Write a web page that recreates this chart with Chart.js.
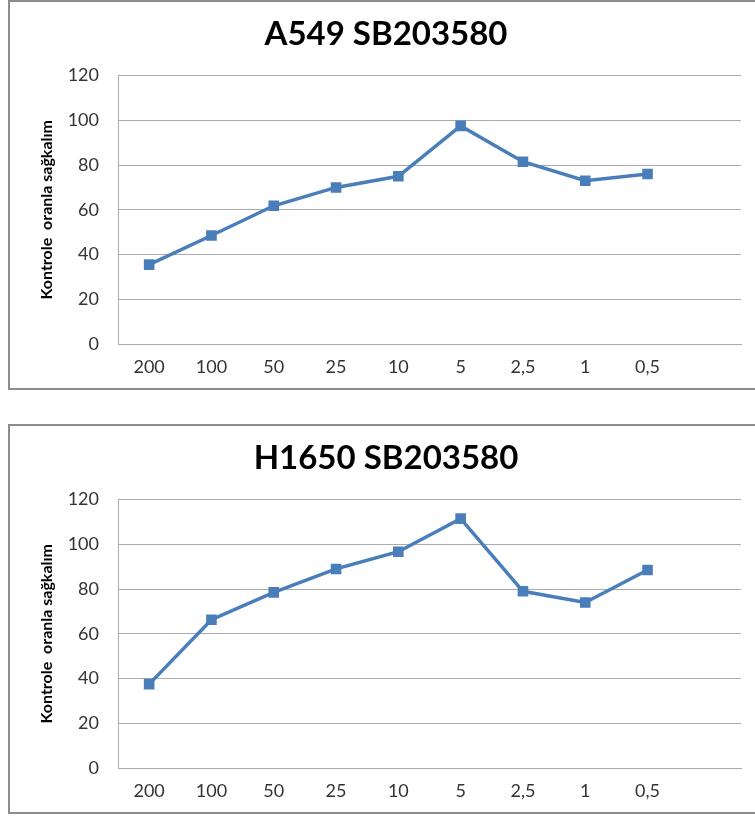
<!DOCTYPE html>
<html>
<head>
<meta charset="utf-8">
<script src="https://cdn.jsdelivr.net/npm/chart.js@4/dist/chart.umd.min.js"></script>
<style>
  html, body { margin: 0; padding: 0; background: #fff; overflow: hidden; }
  body { width: 755px; height: 816px; position: relative; }
  .box { position: absolute; left: 8px; width: 760px; height: 390px; box-sizing: border-box;
         border: 2px solid #8c8c8c; background: #fff; }
  #box1 { top: 0px; }
  #box2 { top: 424px; }
  canvas { position: absolute; left: 0; top: 0; }
</style>
</head>
<body>
<div class="box" id="box1"><canvas id="c1" width="745" height="386"></canvas></div>
<div class="box" id="box2"><canvas id="c2" width="745" height="386"></canvas></div>
<script>
// Concentrations (µM); the trailing blank slot leaves room on the right like the original sheet
const categories = ['200', '100', '50', '25', '10', '5', '2,5', '1', '0,5', ''];
const a549Values = [35.5, 48.5, 61.8, 70, 75, 97.5, 81.5, 73, 76];
const h1650Values = [37.5, 66.3, 78.5, 89, 96.7, 111.5, 79, 74, 88.5];
const yTicks = [0, 20, 40, 60, 80, 100, 120];
const yAxisTitle = 'Kontrole  oranla sağkalım';

const LINE = '#4a7ebb';
const GRID = '#ababab';
const FONT = 'Lato';

function makeChart(id, title, values) {
  return new Chart(document.getElementById(id), {
    type: 'line',
    data: {
      labels: categories,
      datasets: [{
        data: values,
        borderColor: LINE,
        backgroundColor: LINE,
        borderWidth: 3.5,
        pointStyle: 'rect',
        pointRadius: 7.5,
        pointBorderWidth: 0,
        pointBackgroundColor: LINE,
        tension: 0,
        fill: false
      }]
    },
    options: {
      responsive: false,
      animation: false,
      devicePixelRatio: 1,
      layout: { padding: { left: 21, right: 14, top: 0, bottom: 0 } },
      plugins: {
        legend: { display: false },
        tooltip: { enabled: false },
        title: {
          display: true,
          text: title,
          color: '#000',
          font: { family: FONT, size: 33, weight: 'bold' },
          padding: { top: 13, bottom: 21 }
        }
      },
      scales: {
        x: {
          offset: true,
          grid: { display: false, drawTicks: false },
          border: { display: true, color: GRID, width: 1 },
          ticks: { color: '#333', font: { family: FONT, size: 18 }, padding: 12,
                   maxRotation: 0, autoSkip: false },
          afterFit: s => { s.height = 44; }
        },
        y: {
          min: 0, max: 120,
          afterBuildTicks: s => { s.ticks = yTicks.map(v => ({ value: v })); },
          grid: { color: GRID, lineWidth: 1, drawTicks: false },
          border: { display: true, color: GRID, width: 1 },
          ticks: { color: '#333', font: { family: FONT, size: 18 }, padding: 19 },
          title: {
            display: true,
            text: yAxisTitle,
            color: '#000',
            font: { family: FONT, size: 16, weight: 'bold' },
            padding: { top: 6, bottom: 0 }
          },
          afterFit: s => { s.width = 87; }
        }
      }
    }
  });
}

makeChart('c1', 'A549 SB203580', a549Values);
makeChart('c2', 'H1650 SB203580', h1650Values);
</script>
</body>
</html>
